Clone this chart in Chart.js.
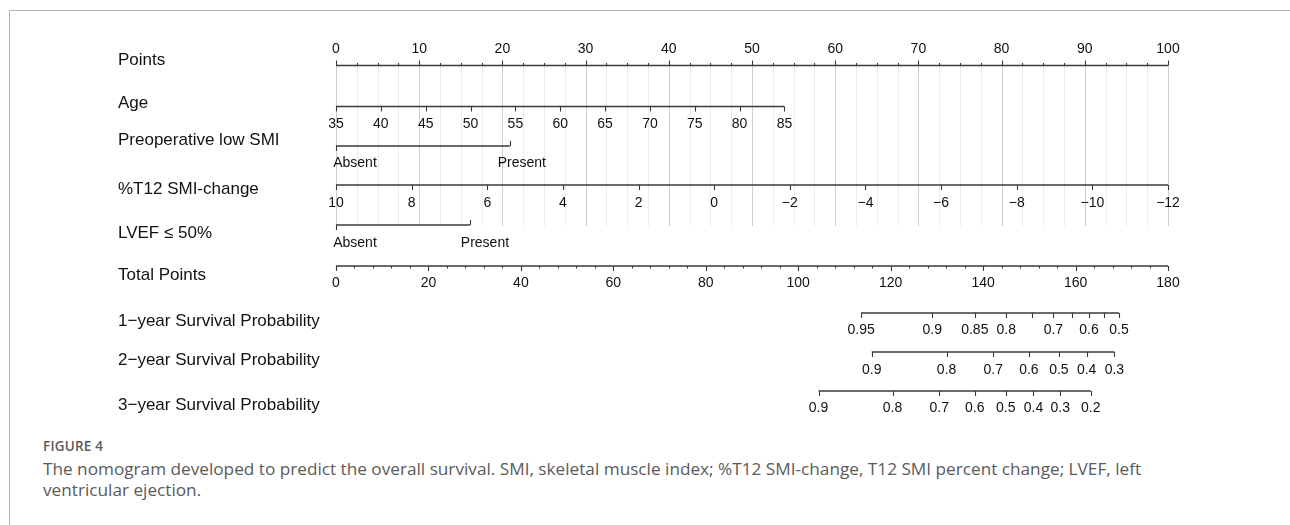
<!DOCTYPE html>
<html>
<head>
<meta charset="utf-8">
<script src="https://cdn.jsdelivr.net/npm/chart.js@4"></script>
<style>
  html, body { margin: 0; padding: 0; background: #fff; }
  body { width: 1290px; height: 525px; position: relative; overflow: hidden; }
  #frame { position: absolute; left: 9px; top: 10px; width: 1290px; height: 520px;
           border-top: 1px solid #b4b4b4; border-left: 1px solid #b4b4b4; }
  #nomo { position: absolute; left: 0; top: 0; }
  #figlabel { position: absolute; left: 43px; top: 437px; font-family: "Open Sans", sans-serif;
              font-weight: 600; font-size: 13.5px; color: #5a5a5a; letter-spacing: 0.2px; }
  #caption { position: absolute; left: 43px; top: 458px; font-family: "Open Sans", sans-serif;
             font-size: 17.2px; line-height: 21px; color: #5a5a5a; white-space: nowrap; }
</style>
</head>
<body>
<div id="frame"></div>
<canvas id="nomo" width="1290" height="430"></canvas>
<div id="figlabel">FIGURE 4</div>
<div id="caption">The nomogram developed to predict the overall survival. SMI, skeletal muscle index; %T12 SMI-change, T12 SMI percent change; LVEF, left<br>ventricular ejection.</div>
<script>
// ---- nomogram content ----
const rowLabels = ['Points', 'Age', 'Preoperative low SMI', '%T12 SMI-change', 'LVEF \u2264 50%',
                   'Total Points', '1\u2212year Survival Probability', '2\u2212year Survival Probability',
                   '3\u2212year Survival Probability'];

// Points scale (0-100)
const pointsTicks = [0, 10, 20, 30, 40, 50, 60, 70, 80, 90, 100];

// Age: labelled values and the points at the two ends of its axis
const ageTicks = [35, 40, 45, 50, 55, 60, 65, 70, 75, 80, 85];
const ageEndValues = [35, 85];
const ageEndPoints = [0, 53.9];

// Preoperative low SMI
const smiCategories = ['Absent', 'Present'];
const smiPoints = [0, 20.9];

// %T12 SMI-change: labelled values and points at the axis ends
const t12Ticks = [10, 8, 6, 4, 2, 0, -2, -4, -6, -8, -10, -12];
const t12EndValues = [10, -12];
const t12EndPoints = [0, 100];

// LVEF <= 50%
const lvefCategories = ['Absent', 'Present'];
const lvefPoints = [0, 16.1];

// Total points scale (0-180)
const totalTicks = [0, 20, 40, 60, 80, 100, 120, 140, 160, 180];

// Survival probabilities and their total points
const surv1Probs = [0.95, 0.9, 0.85, 0.8, 0.75, 0.7, 0.65, 0.6, 0.55, 0.5];
const surv1Shown = ['0.95', '0.9', '0.85', '0.8', '', '0.7', '', '0.6', '', '0.5'];
const surv1Total = [113.6, 129.0, 138.2, 145.0, 150.5, 155.2, 159.3, 162.9, 166.2, 169.4];

const surv2Probs = [0.9, 0.8, 0.7, 0.6, 0.5, 0.4, 0.3];
const surv2Shown = ['0.9', '0.8', '0.7', '0.6', '0.5', '0.4', '0.3'];
const surv2Total = [115.9, 132.1, 142.2, 149.9, 156.4, 162.4, 168.4];

const surv3Probs = [0.9, 0.8, 0.7, 0.6, 0.5, 0.4, 0.3, 0.2];
const surv3Shown = ['0.9', '0.8', '0.7', '0.6', '0.5', '0.4', '0.3', '0.2'];
const surv3Total = [104.4, 120.4, 130.5, 138.2, 144.9, 150.9, 156.7, 163.3];

// ---- layout (vertical positions in y-scale units, top = 0) ----
const L = {
  points: { line: 65.5, label: 60, text: 49 },
  age:    { line: 106.5, label: 103, text: 124.5 },
  smi:    { line: 146, label: 140.5, text: 163.5 },
  t12:    { line: 185, label: 189.5, text: 203 },
  lvef:   { line: 225, label: 233, text: 243 },
  total:  { line: 266, label: 275.5, text: 283 },
  s1:     { line: 313, label: 321, text: 330 },
  s2:     { line: 352, label: 360.5, text: 370 },
  s3:     { line: 391, label: 405, text: 408.5 },
  gridTop: 65.5, gridBottom: 226,
  labelX: 118
};
const MAJOR = 5, MINOR = 2.5;
const ROW_FONT = '17px "Liberation Sans", Arial, sans-serif';
const TICK_FONT = '14px "Liberation Sans", Arial, sans-serif';
const INK = '#111';
const AXIS = '#3a3a3a';

const lin = (v, ends, pts) => pts[0] + (v - ends[0]) * (pts[1] - pts[0]) / (ends[1] - ends[0]);
const fmt = v => String(v).replace('-', '\u2212');

function seg(x0, x1, y, axisId) {
  return { data: [{ x: x0, y: y }, { x: x1, y: y }], xAxisID: axisId, yAxisID: 'y',
           borderColor: AXIS, borderWidth: 1.5, pointRadius: 0, showLine: true, fill: false };
}

const datasets = [
  seg(pointsTicks[0], pointsTicks[pointsTicks.length - 1], L.points.line, 'pts'),
  seg(ageEndPoints[0], ageEndPoints[1], L.age.line, 'pts'),
  seg(smiPoints[0], smiPoints[1], L.smi.line, 'pts'),
  seg(t12EndPoints[0], t12EndPoints[1], L.t12.line, 'pts'),
  seg(lvefPoints[0], lvefPoints[1], L.lvef.line, 'pts'),
  seg(totalTicks[0], totalTicks[totalTicks.length - 1], L.total.line, 'tot'),
  seg(surv1Total[0], surv1Total[surv1Total.length - 1], L.s1.line, 'tot'),
  seg(surv2Total[0], surv2Total[surv2Total.length - 1], L.s2.line, 'tot'),
  seg(surv3Total[0], surv3Total[surv3Total.length - 1], L.s3.line, 'tot')
];

const nomogramPlugin = {
  id: 'nomogram',
  beforeDatasetsDraw(chart) {
    const ctx = chart.ctx, px = chart.scales.pts, y = chart.scales.y;
    const y0 = y.getPixelForValue(L.gridTop), y1 = y.getPixelForValue(L.gridBottom);
    ctx.save();
    ctx.lineWidth = 1;
    for (let p = 0; p <= 100; p += 2.5) {
      const x = Math.round(px.getPixelForValue(p)) + 0.5;
      ctx.strokeStyle = (p % 10 === 0) ? '#cfcfcf' : '#ececec';
      ctx.beginPath(); ctx.moveTo(x, y0); ctx.lineTo(x, y1); ctx.stroke();
    }
    ctx.restore();
  },
  afterDatasetsDraw(chart) {
    const ctx = chart.ctx, px = chart.scales.pts, tx = chart.scales.tot, y = chart.scales.y;
    const Y = v => y.getPixelForValue(v);
    ctx.save();
    ctx.strokeStyle = AXIS;
    ctx.lineWidth = 1.1;
    const tick = (x, yl, len, dir) => {
      const xx = Math.round(x) + 0.5;
      ctx.beginPath(); ctx.moveTo(xx, Y(yl)); ctx.lineTo(xx, Y(yl) + dir * len); ctx.stroke();
    };
    const text = (s, x, yv, align) => {
      ctx.textAlign = align || 'center';
      ctx.fillText(s, x, Y(yv));
    };
    ctx.fillStyle = INK;
    ctx.textBaseline = 'middle';

    // row titles
    ctx.font = ROW_FONT;
    const rows = [L.points, L.age, L.smi, L.t12, L.lvef, L.total, L.s1, L.s2, L.s3];
    rows.forEach((r, i) => text(rowLabels[i], L.labelX, r.label, 'left'));

    ctx.font = TICK_FONT;
    // Points axis: ticks upward, labels above
    for (let p = 0; p <= 100; p += 2.5) tick(px.getPixelForValue(p), L.points.line, p % 10 === 0 ? MAJOR : MINOR, -1);
    pointsTicks.forEach(p => text(String(p), px.getPixelForValue(p), L.points.text));

    // Age
    ageTicks.forEach(a => {
      const x = px.getPixelForValue(lin(a, ageEndValues, ageEndPoints));
      tick(x, L.age.line, MAJOR, 1);
      text(String(a), x, L.age.text);
    });

    // Preoperative low SMI
    tick(px.getPixelForValue(smiPoints[0]), L.smi.line, MAJOR, 1);
    tick(px.getPixelForValue(smiPoints[1]), L.smi.line, MAJOR, -1);
    text(smiCategories[0], px.getPixelForValue(smiPoints[0]) + 19, L.smi.text);
    text(smiCategories[1], px.getPixelForValue(smiPoints[1]) + 12, L.smi.text);

    // %T12 SMI-change
    t12Ticks.forEach(v => {
      const x = px.getPixelForValue(lin(v, t12EndValues, t12EndPoints));
      tick(x, L.t12.line, MAJOR, 1);
      text(fmt(v), x, L.t12.text);
    });

    // LVEF
    tick(px.getPixelForValue(lvefPoints[0]), L.lvef.line, MAJOR, 1);
    tick(px.getPixelForValue(lvefPoints[1]), L.lvef.line, MAJOR, -1);
    text(lvefCategories[0], px.getPixelForValue(lvefPoints[0]) + 19, L.lvef.text);
    text(lvefCategories[1], px.getPixelForValue(lvefPoints[1]) + 15, L.lvef.text);

    // Total points: ticks downward every 4, labels every 20
    for (let t = 0; t <= 180; t += 4) tick(tx.getPixelForValue(t), L.total.line, MINOR, 1);
    totalTicks.forEach(t => {
      tick(tx.getPixelForValue(t), L.total.line, MAJOR, 1);
      text(String(t), tx.getPixelForValue(t), L.total.text);
    });

    // Survival probability axes
    [[surv1Total, surv1Shown, L.s1], [surv2Total, surv2Shown, L.s2], [surv3Total, surv3Shown, L.s3]]
      .forEach(([tot, shown, r]) => {
        tot.forEach((t, i) => {
          const x = tx.getPixelForValue(t);
          tick(x, r.line, MAJOR, 1);
          if (shown[i]) text(shown[i], x, r.text);
        });
      });
    ctx.restore();
  }
};

new Chart(document.getElementById('nomo'), {
  type: 'scatter',
  data: { datasets: datasets },
  options: {
    responsive: false,
    animation: false,
    devicePixelRatio: 1,
    layout: { padding: { left: 336, right: 122, top: 0, bottom: 0 } },
    plugins: { legend: { display: false }, tooltip: { enabled: false } },
    scales: {
      pts: { type: 'linear', axis: 'x', min: 0, max: 100, display: false },
      tot: { type: 'linear', axis: 'x', min: 0, max: 180, display: false },
      y:   { type: 'linear', min: 0, max: 430, reverse: true, display: false }
    }
  },
  plugins: [nomogramPlugin]
});
</script>
</body>
</html>
